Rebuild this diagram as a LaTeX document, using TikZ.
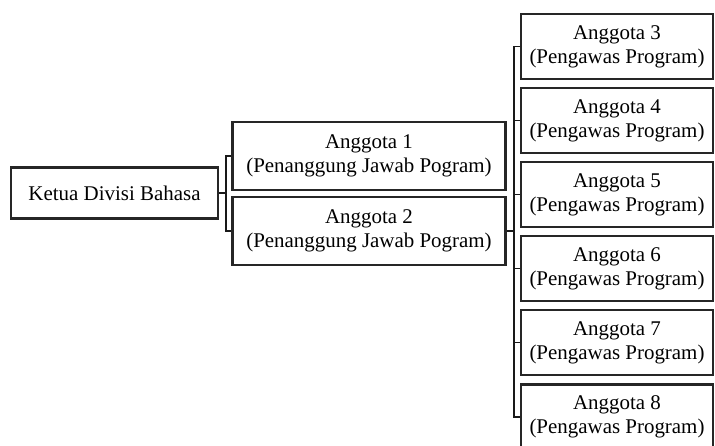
\documentclass[tikz,border=0pt]{standalone}
\usepackage{fontspec}
\setmainfont{Liberation Serif}
\usetikzlibrary{calc}

\begin{document}
\begin{tikzpicture}[x=0.75pt,y=-0.75pt,
    box/.style={draw=black!85,line width=1.8pt,align=center,inner sep=0pt,
      font=\fontsize{15.7}{18}\selectfont},
    link/.style={draw=black!90,line width=1.3pt}]
    \useasboundingbox (0,0) rectangle (715,446);
    \clip (0,0) rectangle (715,446);
    \begin{scope}[shift={(0,0)}]
      % ketua
      \node[box,minimum width=155pt,minimum height=38pt](ketua)at(114.5,193){Ketua Divisi Bahasa};
      % penanggung jawab
      \node[box,minimum width=205pt,minimum height=51pt](a1)at(369,156){Anggota 1\\(Penanggung Jawab Pogram)};
      \node[box,minimum width=205pt,minimum height=51pt](a2)at(369,231){Anggota 2\\(Penanggung Jawab Pogram)};
      % pengawas
      \foreach \i/\y in {3/46.5,4/120.5,5/194.5,6/268.5,7/342.5,8/417}
        \node[box,minimum width=144pt,minimum height=49pt](a\i)at(617,\y){Anggota \i\\(Pengawas Program)};
      % garis
      \draw[link](ketua.east)--++(7,0)coordinate(kj);
      \draw[link](a1.west)--(a1.west-|kj)--(a2.west-|kj)--(a2.west);
      \draw[link](a2.east)--++(7,0)coordinate(aj);
      \draw[link](a3.west)--(a3.west-|aj)--(a8.west-|aj)--(a8.west);
      \foreach \i in {4,...,7}
        \draw[link](a\i.west)--(a\i.west-|aj);
    \end{scope}
\end{tikzpicture}
\end{document}
